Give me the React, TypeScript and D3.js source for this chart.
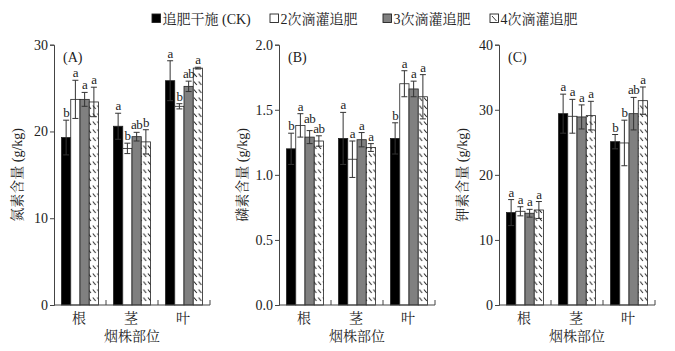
import { useEffect, useRef } from 'react';
import * as d3 from 'd3';

// categories and series
const parts = ['根', '茎', '叶'];
const treatments = ['追肥干施 (CK)', '2次滴灌追肥', '3次滴灌追肥', '4次滴灌追肥'];

// nitrogen (A): [root, stem, leaf] per treatment
const nMean = [
  [19.3, 20.6, 25.85],
  [23.7, 18.05, 22.9],
  [23.7, 19.4, 25.2],
  [23.4, 18.8, 27.3],
];
const nErr = [
  [2.0, 1.5, 2.3],
  [2.2, 0.6, 0.3],
  [0.8, 0.5, 0.6],
  [1.7, 1.4, 0.1],
];
const nSig = [
  ['b', 'a', 'a'],
  ['a', 'b', 'b'],
  ['a', 'ab', 'ab'],
  ['a', 'b', 'a'],
];

// phosphorus (B)
const pMean = [
  [1.2, 1.28, 1.28],
  [1.38, 1.12, 1.7],
  [1.29, 1.27, 1.66],
  [1.26, 1.21, 1.6],
];
const pErr = [
  [0.12, 0.2, 0.12],
  [0.09, 0.14, 0.1],
  [0.05, 0.055, 0.06],
  [0.04, 0.03, 0.17],
];
const pSig = [
  ['b', 'a', 'b'],
  ['a', 'a', 'a'],
  ['ab', 'a', 'a'],
  ['ab', 'a', 'a'],
];

// potassium (C)
const kMean = [
  [14.2, 29.4, 25.1],
  [14.4, 29.0, 24.9],
  [14.1, 28.9, 29.4],
  [14.6, 29.1, 31.4],
];
const kErr = [
  [2.0, 3.0, 1.1],
  [0.7, 2.6, 3.5],
  [0.6, 1.85, 2.5],
  [1.3, 2.2, 2.1],
];
const kSig = [
  ['a', 'a', 'b'],
  ['a', 'a', 'b'],
  ['a', 'a', 'ab'],
  ['a', 'a', 'a'],
];

const panels = [
  { tag: '(A)', yLabel: '氮素含量 (g/kg)', max: 30, ticks: [0, 10, 20, 30], fmt: '.0f', mean: nMean, err: nErr, sig: nSig, left: 54 },
  { tag: '(B)', yLabel: '磷素含量 (g/kg)', max: 2, ticks: [0, 0.5, 1, 1.5, 2], fmt: '.1f', mean: pMean, err: pErr, sig: pSig, left: 279 },
  { tag: '(C)', yLabel: '钾素含量 (g/kg)', max: 40, ticks: [0, 10, 20, 30, 40], fmt: '.0f', mean: kMean, err: kErr, sig: kSig, left: 499 },
];

const FONT = '"Liberation Serif", "Noto Serif CJK SC", "Noto Sans CJK SC", serif';
const fills = ['#000000', '#ffffff', '#808080', 'url(#hatch)'];

const App = () => {
  const svgRef = useRef<SVGSVGElement>(null);

  useEffect(() => {
    const svg = d3.select(svgRef.current);
    svg.selectAll('*').remove();

    const width = 675;
    const height = 351;
    svg.attr('width', width).attr('height', height).style('font-family', FONT);

    // hatch pattern
    const pat = svg.append('defs').append('pattern')
      .attr('id', 'hatch')
      .attr('patternUnits', 'userSpaceOnUse')
      .attr('width', 4.6)
      .attr('height', 8);
    pat.append('rect').attr('width', 4.6).attr('height', 8).attr('fill', '#fff');
    pat.append('line')
      .attr('x1', 0.8).attr('y1', 1.5).attr('x2', 3.6).attr('y2', 5)
      .attr('stroke', '#222').attr('stroke-width', 1);

    const top = 44.7;
    const bottom = 305;
    const plotW = 156;

    panels.forEach((p) => {
      const g = svg.append('g');

      const y = d3.scaleLinear().domain([0, p.max]).range([bottom, top]);
      const x0 = d3.scaleBand().domain(parts).range([p.left, p.left + plotW]);
      const x1 = d3.scaleBand()
        .domain(treatments)
        .range([7.5, x0.bandwidth() - 7.5]);

      // bars
      treatments.forEach((t, ti) => {
        parts.forEach((c, ci) => {
          const v = p.mean[ti][ci];
          const bx = (x0(c) as number) + (x1(t) as number);
          g.append('rect')
            .attr('x', bx)
            .attr('y', y(v))
            .attr('width', x1.bandwidth())
            .attr('height', bottom - y(v))
            .attr('fill', fills[ti])
            .attr('stroke', '#222')
            .attr('stroke-width', 0.8);
        });
      });

      // error bars + letters
      parts.forEach((c, ci) => {
        const labels: { x: number; y: number; s: string }[] = [];
        treatments.forEach((t, ti) => {
          const v = p.mean[ti][ci];
          const e = p.err[ti][ci];
          const cx = (x0(c) as number) + (x1(t) as number) + x1.bandwidth() / 2;
          const yt = y(v + e);
          const yb = y(v - e);
          g.append('line')
            .attr('x1', cx).attr('x2', cx).attr('y1', yt).attr('y2', yb)
            .attr('stroke', '#333').attr('stroke-width', 1);
          [yt, yb].forEach((yy) => {
            g.append('line')
              .attr('x1', cx - 3).attr('x2', cx + 3).attr('y1', yy).attr('y2', yy)
              .attr('stroke', '#333').attr('stroke-width', 1);
          });
          labels.push({ x: cx, y: yt - 3, s: p.sig[ti][ci] });
        });

        // nudge labels that collide with their neighbour
        for (let i = 0; i < labels.length - 1; i++) {
          const a = labels[i];
          const b = labels[i + 1];
          const wa = a.s.length * 6.2;
          const wb = b.s.length * 6.2;
          const hOverlap = a.x + wa / 2 > b.x - wb / 2 + 0.5;
          if (hOverlap && Math.abs(a.y - b.y) < 10) {
            if (a.y <= b.y) a.y = b.y - 10;
            else b.y = a.y - 10;
          }
        }

        labels.forEach((l) => {
          g.append('text')
            .attr('x', l.x)
            .attr('y', l.y)
            .attr('text-anchor', 'middle')
            .style('font-size', '13px')
            .style('letter-spacing', '-0.6px')
            .attr('fill', '#222')
            .text(l.s);
        });
      });

      // y axis
      const yAxis = d3.axisLeft(y)
        .tickValues(p.ticks)
        .tickFormat(d3.format(p.fmt) as any)
        .tickSize(4)
        .tickPadding(2);
      const ya = g.append('g')
        .attr('transform', `translate(${p.left},0)`)
        .call(yAxis);
      ya.select('.domain').attr('stroke', '#444');
      ya.selectAll('.tick line').attr('stroke', '#444');
      ya.selectAll('text')
        .style('font-family', FONT)
        .style('font-size', '14px')
        .attr('fill', '#222');

      // x axis: baseline with inward ticks at band boundaries
      g.append('line')
        .attr('x1', p.left).attr('x2', p.left + plotW)
        .attr('y1', bottom).attr('y2', bottom)
        .attr('stroke', '#444');
      parts.forEach((c, ci) => {
        if (ci === 0) return;
        const bx = x0(c) as number;
        g.append('line')
          .attr('x1', bx).attr('x2', bx).attr('y1', bottom).attr('y2', bottom - 5)
          .attr('stroke', '#444');
      });
      g.append('line')
        .attr('x1', p.left + plotW).attr('x2', p.left + plotW)
        .attr('y1', bottom).attr('y2', bottom - 5)
        .attr('stroke', '#444');

      parts.forEach((c) => {
        g.append('text')
          .attr('x', (x0(c) as number) + x0.bandwidth() / 2 - 1)
          .attr('y', 323)
          .attr('text-anchor', 'middle')
          .style('font-size', '14px')
          .attr('fill', '#222')
          .text(c);
      });

      g.append('text')
        .attr('x', p.left + plotW / 2)
        .attr('y', 341)
        .attr('text-anchor', 'middle')
        .style('font-size', '14px')
        .attr('fill', '#222')
        .text('烟株部位');

      // y label
      g.append('text')
        .attr('transform', `translate(${p.left - 32},${(top + bottom) / 2}) rotate(-90)`)
        .attr('text-anchor', 'middle')
        .style('font-size', '14px')
        .attr('fill', '#222')
        .text(p.yLabel);

      // panel tag
      g.append('text')
        .attr('x', p.left + 9)
        .attr('y', 62)
        .style('font-size', '14px')
        .attr('fill', '#222')
        .text(p.tag);
    });

    // legend
    const legendX = [152, 270, 383, 490];
    const lg = svg.append('g');
    treatments.forEach((t, ti) => {
      lg.append('rect')
        .attr('x', legendX[ti])
        .attr('y', 14)
        .attr('width', 8.5)
        .attr('height', 8.5)
        .attr('fill', ti === 3 ? '#fff' : fills[ti])
        .attr('stroke', '#222')
        .attr('stroke-width', 0.9);
      if (ti === 3) {
        lg.append('line')
          .attr('x1', legendX[ti] + 2).attr('y1', 16)
          .attr('x2', legendX[ti] + 6.5).attr('y2', 21)
          .attr('stroke', '#222').attr('stroke-width', 0.9);
      }
      lg.append('text')
        .attr('x', legendX[ti] + 10.5)
        .attr('y', 23.5)
        .style('font-size', '14px')
        .attr('fill', '#222')
        .text(t);
    });
  }, []);

  return (
    <svg
      ref={svgRef}
      style={{ position: 'absolute', left: 0, top: 0, background: '#fff' }}
    />
  );
};

export default App;
